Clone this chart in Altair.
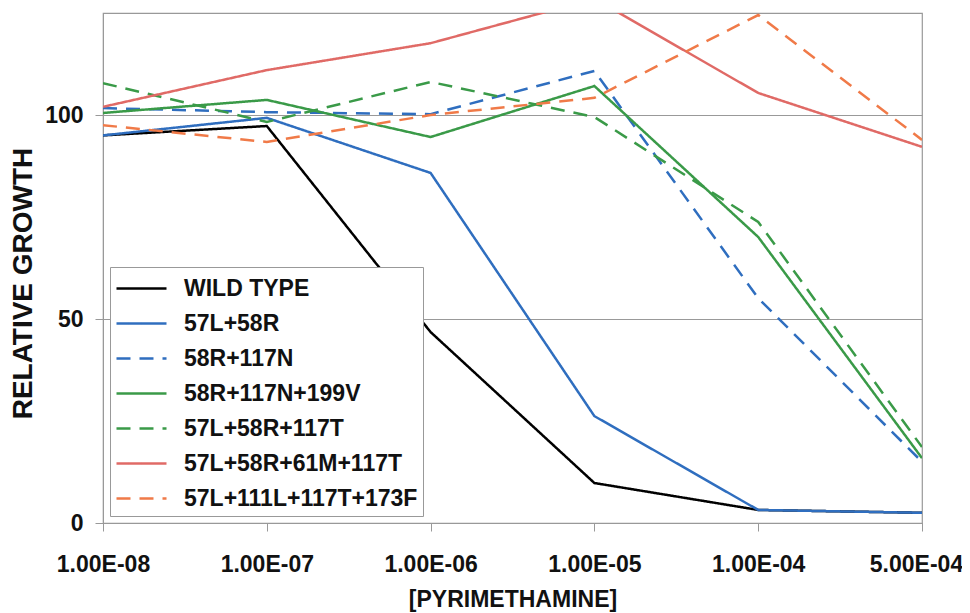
import altair as alt
import pandas as pd

concentrations = ["1.00E-08", "1.00E-07", "1.00E-06", "1.00E-05", "1.00E-04", "5.00E-04"]
series_names = ["WILD TYPE", "57L+58R", "58R+117N", "58R+117N+199V",
                "57L+58R+117T", "57L+58R+61M+117T", "57L+111L+117T+173F"]

wild_type = [95.0, 97.3, 46.8, 9.8, 3.2, 2.5]
s_57L_58R = [95.0, 99.3, 85.8, 26.2, 3.2, 2.5]
s_58R_117N = [101.7, 100.7, 100.2, 110.8, 55.1, 15.0]
s_58R_117N_199V = [100.5, 103.7, 94.6, 107.1, 70.1, 15.9]
s_57L_58R_117T = [107.8, 98.3, 108.1, 99.5, 73.8, 18.6]
s_57L_58R_61M_117T = [102.0, 111.0, 117.6, 128.5, 105.4, 92.2]
s_57L_111L_117T_173F = [97.5, 93.4, 100.0, 104.2, 124.5, 93.9]

all_values = [wild_type, s_57L_58R, s_58R_117N, s_58R_117N_199V,
              s_57L_58R_117T, s_57L_58R_61M_117T, s_57L_111L_117T_173F]

colors = ["#000000", "#2F6EBF", "#2F6EBF", "#3A9A48", "#3A9A48", "#E06A66", "#F07A48"]
dashes = [[1, 0], [1, 0], [14, 9], [1, 0], [14, 9], [1, 0], [14, 9]]

rows = []
for si, (name, vals) in enumerate(zip(series_names, all_values)):
    for c, v in zip(concentrations, vals):
        rows.append({"series": name, "conc": c, "growth": v, "ord": si})
df = pd.DataFrame(rows)

FONT = "Liberation Sans"

chart = alt.Chart(df).mark_line(clip=True, strokeWidth=2.5).encode(
    x=alt.X("conc:O", sort=concentrations,
            scale=alt.Scale(type="point", padding=0),
            axis=alt.Axis(title="[PYRIMETHAMINE]", labelAngle=0, grid=False,
                          tickSize=8, labelPadding=22, titlePadding=12,
                          labelOffset=alt.expr("datum.value == '5.00E-04' ? -6 : 0"))),
    y=alt.Y("growth:Q", scale=alt.Scale(domain=[0, 125], nice=False),
            axis=alt.Axis(title="RELATIVE GROWTH", values=[0, 50, 100], grid=True,
                          tickSize=8, labelPadding=12, titlePadding=7,
                          titleFontSize=28, titleY=270)),
    color=alt.Color("series:N", sort=series_names,
                    scale=alt.Scale(domain=series_names, range=colors),
                    legend=alt.Legend(title=None)),
    strokeDash=alt.StrokeDash("series:N", sort=series_names,
                              scale=alt.Scale(domain=series_names, range=dashes),
                              legend=alt.Legend(title=None)),
    detail="series:N",
    order="ord:Q",
).properties(
    width=819, height=510,
    autosize=alt.AutoSizeParams(type="none"),
    padding={"left": 95, "top": 5, "right": 40, "bottom": 90},
).configure_view(
    stroke="#999999", strokeWidth=1.2
).configure_axis(
    labelFont=FONT, titleFont=FONT, labelFontWeight="bold", titleFontWeight="bold",
    labelFontSize=23, titleFontSize=23, labelColor="#111111", titleColor="#111111",
    domainColor="#999999", tickColor="#999999", gridColor="#999999", gridWidth=1.2,
).configure_legend(
    orient="none", legendX=7, legendY=254,
    strokeColor="#999999", padding=5, fillColor="white",
    labelFont=FONT, labelFontWeight="bold", labelFontSize=23, labelColor="#111111",
    symbolType="M-1.6667,0H1.6667", symbolSize=900, symbolStrokeWidth=2.5,
    symbolOffset=10, rowPadding=6, labelOffset=26, labelLimit=400,
)

chart.save("out.html", embed_options={"renderer": "svg", "actions": False})
